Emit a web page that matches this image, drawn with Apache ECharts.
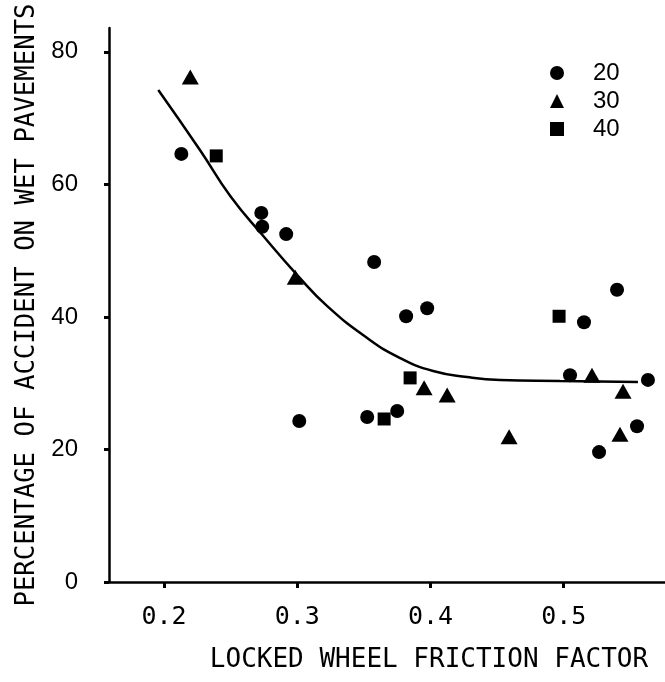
<!DOCTYPE html>
<html>
<head>
<meta charset="utf-8">
<script src="https://cdn.jsdelivr.net/npm/echarts@6/dist/echarts.min.js"></script>
<style>html,body{margin:0;padding:0;background:#fff}#c{width:665px;height:682px}</style>
</head>
<body>
<div id="c"></div>
<script>
// Data
const xTicks = [0.2, 0.3, 0.4, 0.5];
const yTicks = [0, 20, 40, 60, 80];
const seriesNames = ['20', '30', '40'];

const speed20 = [
  [0.213, 64.6], [0.273, 55.7], [0.2737, 53.6], [0.2917, 52.5], [0.3015, 24.3],
  [0.3577, 48.3], [0.3817, 40.1], [0.3975, 41.3], [0.3525, 24.9], [0.375, 25.8],
  [0.540, 44.1], [0.5152, 39.2], [0.5047, 31.2], [0.5632, 30.5], [0.555, 23.5],
  [0.5265, 19.6]
];
const speed30 = [
  [0.2197, 76.2], [0.2985, 46.0], [0.3952, 29.3], [0.4125, 28.2], [0.459, 21.9],
  [0.5212, 31.2], [0.5445, 28.8], [0.5422, 22.3]
];
const speed40 = [
  [0.2392, 64.3], [0.3847, 30.8], [0.3652, 24.6], [0.4965, 40.1]
];
const fitCurve = [
  [0.1957, 74.24], [0.2272, 65.11], [0.2497, 58.25], [0.2745, 52.21], [0.300, 46.32],
  [0.3225, 41.64], [0.3525, 36.82], [0.3772, 33.80], [0.402, 31.84], [0.4275, 30.93],
  [0.4522, 30.48], [0.4972, 30.33], [0.5557, 30.18]
];

const chart = echarts.init(document.getElementById('c'), null, {renderer: 'canvas'});
const axisLine = {show: true, lineStyle: {color: '#000', width: 2.5}};
const mark = {color: '#000', opacity: 1};
chart.setOption({
  animation: false,
  backgroundColor: '#fff',
  grid: {left: 109, right: 0, top: 28, bottom: 100},
  legend: {
    orient: 'vertical',
    left: 545, top: 56,
    itemWidth: 14, itemHeight: 14, itemGap: 4,
    textStyle: {fontFamily: 'Liberation Sans', fontSize: 24, color: '#000', lineHeight: 24, padding: [0, 0, 0, 24]},
    data: [
      {name: '20', icon: 'circle', itemStyle: mark},
      {name: '30', icon: 'triangle', itemStyle: mark},
      {name: '40', icon: 'rect', itemStyle: mark}
    ]
  },
  xAxis: {
    type: 'value', min: 0.1587, max: 0.576,
    name: 'LOCKED WHEEL FRICTION FACTOR',
    nameLocation: 'middle', nameGap: 65,
    nameTextStyle: {fontFamily: 'DejaVu Sans Mono', fontSize: 26, color: '#000', padding: [0, 0, 0, 84]},
    axisLine: axisLine,
    axisTick: {show: true, inside: false, length: 6, lineStyle: {color: '#000', width: 3}, customValues: xTicks},
    axisLabel: {customValues: xTicks, margin: 23, fontFamily: 'DejaVu Sans Mono', fontSize: 25, color: '#000',
      formatter: v => v.toFixed(1)},
    splitLine: {show: false}
  },
  yAxis: {
    type: 'value', min: 0, max: 83.6,
    name: 'PERCENTAGE OF ACCIDENT ON WET PAVEMENTS',
    nameLocation: 'middle', nameGap: 64,
    nameTextStyle: {fontFamily: 'DejaVu Sans Mono', fontSize: 25.7, color: '#000'},
    axisLine: axisLine,
    axisTick: {show: true, inside: false, length: 5, lineStyle: {color: '#000', width: 3}, customValues: yTicks},
    axisLabel: {customValues: yTicks, margin: 31, fontFamily: 'Liberation Sans', fontSize: 24, color: '#000'},
    splitLine: {show: false}
  },
  series: [
    {name: seriesNames[0], type: 'scatter', symbol: 'circle', symbolSize: 14, data: speed20, itemStyle: mark},
    {name: seriesNames[1], type: 'scatter', symbol: 'triangle', symbolSize: [17, 15], data: speed30, itemStyle: mark},
    {name: seriesNames[2], type: 'scatter', symbol: 'rect', symbolSize: 13, data: speed40, itemStyle: mark},
    {name: 'fit', type: 'line', data: fitCurve, smooth: 0.5, showSymbol: false, symbol: 'none',
      lineStyle: {color: '#000', width: 2.5}, z: 1}
  ]
});
</script>
</body>
</html>
